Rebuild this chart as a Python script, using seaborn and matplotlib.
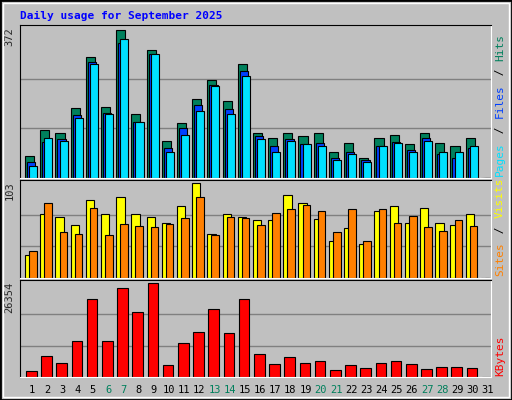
import matplotlib
matplotlib.use("Agg")
import matplotlib.pyplot as plt
import seaborn as sns
import numpy as np
from matplotlib.patches import Rectangle

days = list(range(1, 32))
hits = [54, 119, 112, 175, 303, 177, 371, 160, 321, 92, 137, 197, 245, 192, 286,
        112, 99, 112, 104, 112, 64, 87, 49, 99, 107, 84, 112, 87, 81, 99, 0]
files = [41, 89, 97, 157, 291, 162, 339, 139, 311, 74, 124, 182, 233, 172, 268,
         104, 79, 97, 84, 87, 51, 64, 44, 79, 89, 69, 99, 61, 49, 76, 0]
pages = [31, 99, 92, 150, 286, 160, 348, 139, 311, 66, 107, 167, 230, 160, 255,
         97, 66, 92, 84, 79, 46, 61, 41, 79, 87, 64, 92, 64, 66, 79, 0]
sites = [25, 69, 66, 57, 84, 69, 88, 69, 66, 60, 78, 103, 48, 69, 66,
         63, 63, 90, 81, 64, 40, 54, 37, 72, 78, 59, 76, 60, 57, 69, 0]
visits = [29, 81, 50, 48, 76, 47, 58, 56, 55, 58, 65, 88, 47, 66, 65,
          57, 70, 75, 79, 72, 50, 75, 40, 75, 60, 67, 55, 51, 63, 56, 0]
kbytes = [1540, 5870, 3850, 10200, 21740, 10200, 24910, 18280, 26354, 3270, 9620, 12500,
          19140, 12220, 21740, 6440, 3560, 5580, 3850, 4420, 1830, 3270, 2400, 3850,
          4420, 3560, 2120, 2690, 2690, 2400, 0]
weekends = [6, 7, 13, 14, 20, 21, 27, 28]

BG = "#C0C0C0"
sns.set_style("white")
plt.rcParams["font.family"] = ["DejaVu Sans Mono"]

fig = plt.figure(figsize=(5.12, 4.0), dpi=100, facecolor=BG)
W, H = 512, 400
fig.patches.append(Rectangle((0, 0), 1, 1, transform=fig.transFigure, fill=False,
                             edgecolor="black", linewidth=2))
fig.patches.append(Rectangle((3 / W, 3 / H), 1 - 6 / W, 1 - 6 / H, transform=fig.transFigure,
                             fill=False, edgecolor="white", linewidth=1))


def panel(top, bottom):
    ax = fig.add_axes([20 / W, 1 - bottom / H, 471 / W, (bottom - top) / H])
    ax.set_facecolor(BG)
    ax.set_xlim(0.5, 31.5)
    ax.set_xticks([])
    ax.set_yticks([])
    for s in ("top", "left"):
        ax.spines[s].set_color("black")
    for s in ("bottom", "right"):
        ax.spines[s].set_color("white")
    return ax


x = np.array(days)
kw = dict(align="edge", edgecolor="black", linewidth=0.8)

# Hits / Files / Pages
ax1 = panel(25, 178)
ax1.set_ylim(0, 372 * 1.03)
for g in (124, 248):
    ax1.axhline(g, color="#808080", lw=1, zorder=0)
ax1.bar(x - 0.17, hits, width=0.6, color="#00805C", **kw)
ax1.bar(x - 0.04, files, width=0.55, color="#0040FF", **kw)
ax1.bar(x + 0.1, pages, width=0.53, color="#00E0FF", **kw)

# Sites / Visits
ax2 = panel(180, 278)
ax2.set_ylim(0, 103 * 1.03)
for g in (34.3, 68.7):
    ax2.axhline(g, color="#808080", lw=1, zorder=0)
ax2.bar(x - 0.17, sites, width=0.55, color="#FFFF00", **kw)
ax2.bar(x + 0.1, visits, width=0.5, color="#FF8000", **kw)

# KBytes
ax3 = panel(280, 377)
ax3.set_ylim(0, 26354 * 1.03)
for g in (8785, 17570):
    ax3.axhline(g, color="#808080", lw=1, zorder=0)
ax3.bar(x - 0.1, kbytes, width=0.7, color="#FF0000", **kw)

for ax, lab in ((ax1, "372"), (ax2, "103"), (ax3, "26354")):
    ax.text(-0.012, 0.985, lab, transform=ax.transAxes, rotation=90, ha="right", va="top",
            fontsize=7.5)


# right-side legends
def side_label(parts, y_bottom):
    y = y_bottom
    for txt, col in parts:
        fig.text(500 / W, y / H, txt, rotation=90, color=col, fontsize=8,
                 ha="center", va="bottom")
        y += len(txt) * 7.2


side_label([("Pages", "#00E0FF"), (" / ", "black"), ("Files", "#0040FF"), (" / ", "black"),
            ("Hits", "#00805C")], 400 - 176)
side_label([("Sites", "#FF8000"), (" / ", "black"), ("Visits", "#FFFF00")], 400 - 276)
side_label([("KBytes", "#FF0000")], 400 - 376)

for d in days:
    col = "#00805C" if d in weekends else "black"
    ax3.text(d + 0.3, -0.13, str(d), transform=ax3.get_xaxis_transform(), ha="center",
             va="center", fontsize=7.5, color=col)

fig.text(20 / W, 1 - 16 / H, "Daily usage for September 2025", color="#0000FF",
         fontsize=8, fontweight="bold", va="center")

fig.savefig("out.png", dpi=100, facecolor=BG)
